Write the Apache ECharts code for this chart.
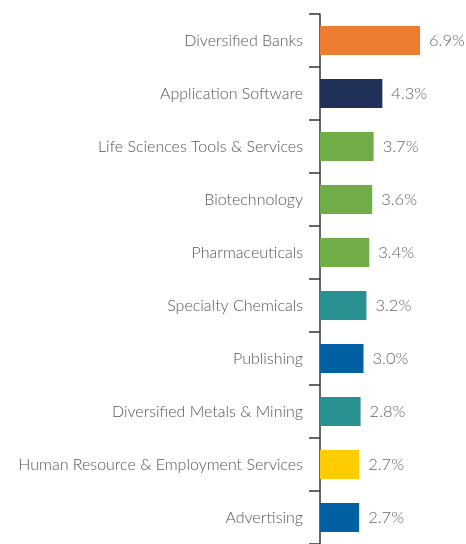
<!DOCTYPE html>
<html>
<head>
<meta charset="utf-8">
<script src="https://cdn.jsdelivr.net/npm/echarts@6/dist/echarts.min.js"></script>
<style>
  html, body { margin: 0; padding: 0; background: #fff; }
  #chart { width: 466px; height: 544px; }
</style>
</head>
<body>
<div id="chart"></div>
<script>
const categories = [
  'Diversified Banks',
  'Application Software',
  'Life Sciences Tools & Services',
  'Biotechnology',
  'Pharmaceuticals',
  'Specialty Chemicals',
  'Publishing',
  'Diversified Metals & Mining',
  'Human Resource & Employment Services',
  'Advertising'
];
const weights = [6.9, 4.3, 3.7, 3.6, 3.4, 3.2, 3.0, 2.8, 2.7, 2.7];
const barColors = ['#ED7D31', '#1F3158', '#70AD47', '#70AD47', '#70AD47', '#2A9192', '#0160A2', '#2A9192', '#FFCC00', '#0160A2'];

const chart = echarts.init(document.getElementById('chart'));
chart.setOption({
  animation: false,
  grid: { left: 320, top: 14, width: 145, height: 534 },
  xAxis: {
    type: 'value',
    min: 0,
    max: 10,
    show: false
  },
  yAxis: {
    type: 'category',
    inverse: true,
    data: categories,
    axisLine: { lineStyle: { color: '#333', width: 1.5 } },
    axisTick: { show: true, length: 11, lineStyle: { color: '#333', width: 1.5 } },
    axisLabel: {
      margin: 17,
      color: '#555',
      fontSize: 16,
      fontWeight: 300,
      fontFamily: 'Lato'
    },
    splitLine: { show: false }
  },
  series: [{
    type: 'bar',
    barWidth: 29,
    data: weights.map((v, i) => ({ value: v, itemStyle: { color: barColors[i] } })),
    label: {
      show: true,
      position: 'right',
      distance: 9,
      color: '#666',
      fontSize: 16.5,
      fontWeight: 300,
      fontFamily: 'Lato',
      formatter: p => p.value.toFixed(1) + '%'
    }
  }]
});
</script>
</body>
</html>
